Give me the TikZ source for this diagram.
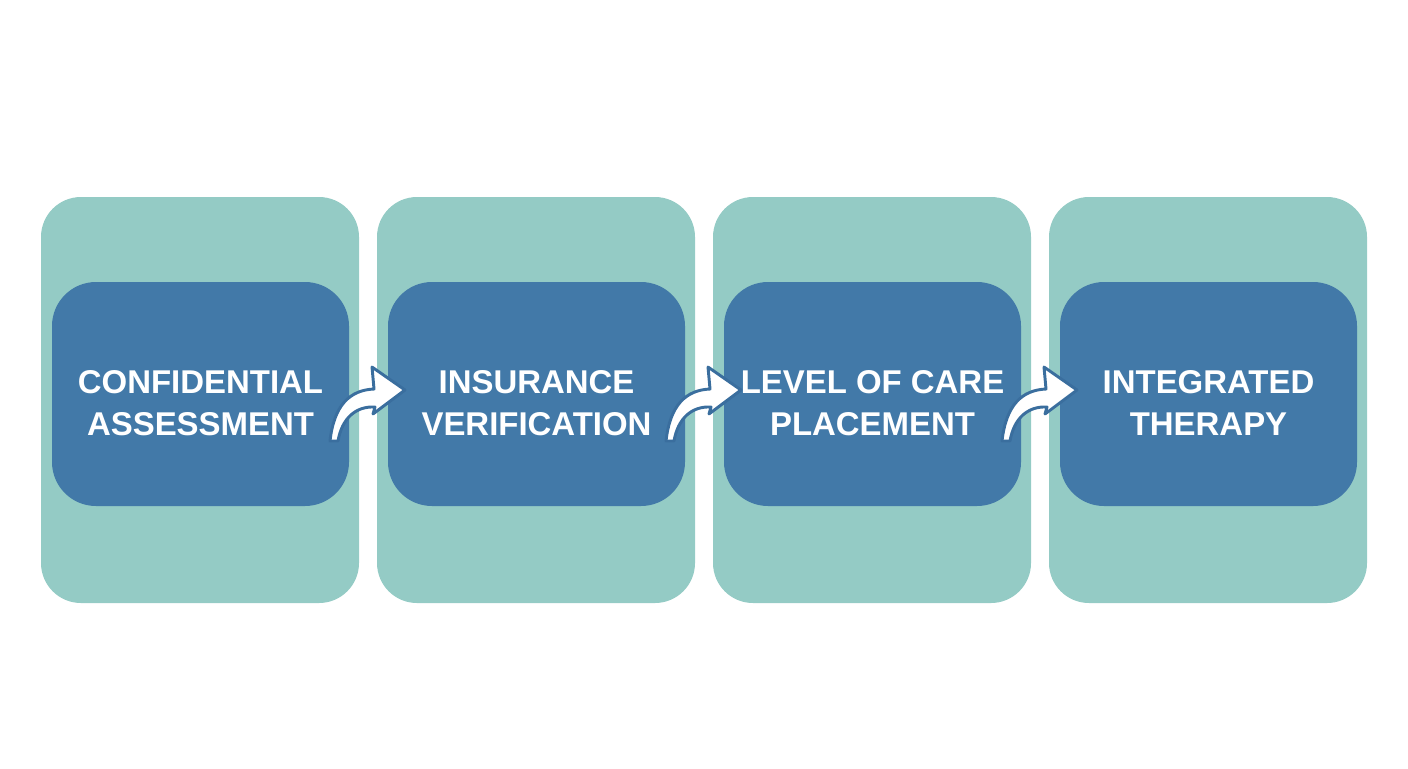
\documentclass[tikz,border=0pt]{standalone}
\usepackage{fontspec}
\setmainfont{Liberation Sans}
\definecolor{outerteal}{HTML}{94CBC5}
\definecolor{innerblue}{HTML}{4279A8}
\definecolor{arrowline}{HTML}{3A6E9E}
\begin{document}
\begin{tikzpicture}[
  x=0.75pt, y=-0.75pt,
  outer box/.style={fill=outerteal, rounded corners=30pt, minimum width=238.5pt, minimum height=304.5pt, inner sep=0pt},
  inner box/.style={fill=innerblue, rounded corners=33pt, minimum width=222.75pt, minimum height=168pt, inner sep=0pt},
  step label/.style={text=white, font=\fontsize{24.7}{31.5}\selectfont\bfseries, align=center},
  step arrow/.style={fill=white, draw=arrowline, line width=2.2pt, line join=round}
  ]
  \useasboundingbox (0,0) rectangle (1408,768);
  \foreach \i/\name/\txt in {0/assess/{CONFIDENTIAL\\ASSESSMENT}, 1/insure/{INSURANCE\\VERIFICATION},
                             2/level/{LEVEL OF CARE\\PLACEMENT}, 3/therapy/{INTEGRATED\\THERAPY}} {
    \node[outer box] (\name-bg) at ({200+336*\i},400) {};
    \node[inner box] (\name) at ({200.5+336*\i},394) {};
    \node[step label] (\name-text) at ({200.5+336*\i},403) {\txt};
  }
  % curved arrows between steps
  \foreach \dx in {0,336,672} {
    \begin{scope}[xshift=\dx*0.75pt]
      \filldraw[step arrow] (330,441) .. controls (334,405) and (350,390) .. (374,389)
        -- (372,367) -- (405,390) -- (373,414) -- (375,407)
        .. controls (356,406) and (342,418) .. (338,441) -- cycle;
    \end{scope}
  }
\end{tikzpicture}
\end{document}
